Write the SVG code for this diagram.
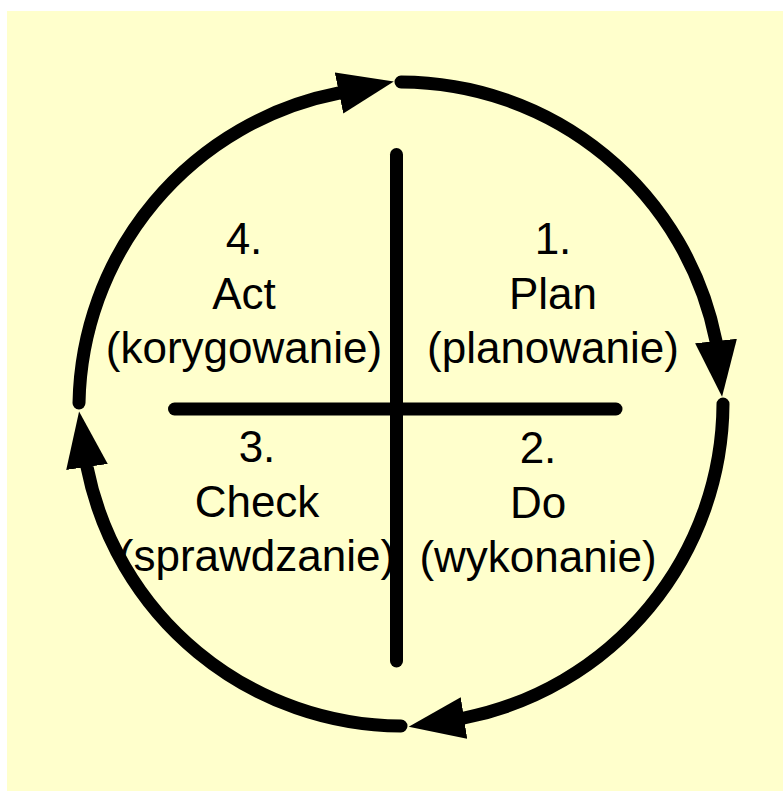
<svg xmlns="http://www.w3.org/2000/svg" width="783" height="791" viewBox="0 0 783 791">
<style>
.lbl{font-family:"Liberation Sans",Arial,sans-serif;font-size:44px;fill:#000;text-anchor:middle}
.arc{fill:none;stroke:#000;stroke-width:13;stroke-linecap:round;stroke-linejoin:round}
.bar{stroke:#000;stroke-width:13;stroke-linecap:round}
</style>
<defs>
<marker id="ah" markerUnits="userSpaceOnUse" viewBox="0 0 60 44" markerWidth="60" markerHeight="44" refX="24" refY="22" orient="auto">
<path d="M0,1 L56,22 L0,43 z" fill="#000"/>
</marker>
</defs>
<rect x="7" y="11" width="776" height="780" fill="#FFFFCC"/>
<g id="connectors">
<path class="arc" d="M401,82 A322,322 0 0 1 716,341 L718.6,364.9" marker-end="url(#ah)"/>
<path class="arc" d="M723,404 A322,322 0 0 1 464,718 L440.3,721.7" marker-end="url(#ah)"/>
<path class="arc" d="M401,726 A322,322 0 0 1 87,467 L83.6,443.2" marker-end="url(#ah)"/>
<path class="arc" d="M79,403 A322,322 0 0 1 339,93 L362.5,88.1" marker-end="url(#ah)"/>
</g>
<g id="cross">
<line class="bar" x1="396.5" y1="154.5" x2="396.5" y2="661"/>
<line class="bar" x1="174.5" y1="409" x2="616" y2="409"/>
</g>
<g id="plan">
<text class="lbl" x="553" y="254">1.</text>
<text class="lbl" x="553" y="309">Plan</text>
<text class="lbl" x="553" y="363">(planowanie)</text>
</g>
<g id="do">
<text class="lbl" x="538" y="463">2.</text>
<text class="lbl" x="538" y="518">Do</text>
<text class="lbl" x="538" y="572">(wykonanie)</text>
</g>
<g id="check">
<text class="lbl" x="257" y="462">3.</text>
<text class="lbl" x="257" y="517">Check</text>
<text class="lbl" x="257" y="571">(sprawdzanie)</text>
</g>
<g id="act">
<text class="lbl" x="244" y="254">4.</text>
<text class="lbl" x="244" y="309">Act</text>
<text class="lbl" x="244" y="363">(korygowanie)</text>
</g>
</svg>
